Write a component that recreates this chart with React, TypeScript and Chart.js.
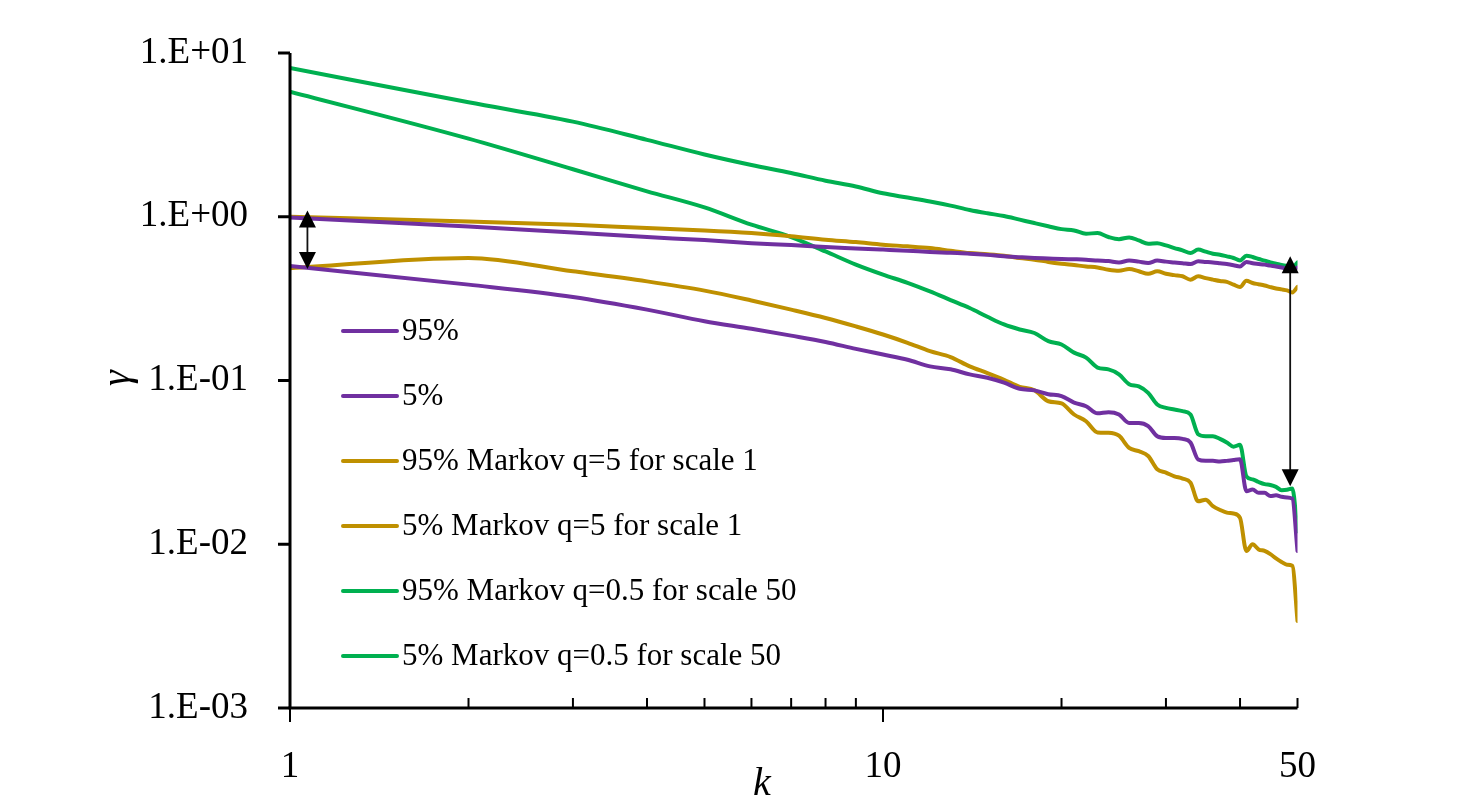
import { useEffect, useRef } from 'react';
import { Chart, registerables } from 'chart.js';

Chart.register(...registerables);

// ---- data ----
const K = [1, 2, 3, 4, 5, 6, 7, 8, 9, 10, 11, 12, 13, 14, 15, 16, 17, 18, 19, 20,
  21, 22, 23, 24, 25, 26, 27, 28, 29, 30, 31, 32, 33, 34, 35, 36, 37, 38, 39, 40,
  41, 42, 43, 44, 45, 46, 47, 48, 49, 50];

const P95 = [0.99, 0.873, 0.8, 0.752, 0.72, 0.69, 0.672, 0.653, 0.641, 0.63, 0.62, 0.61, 0.602, 0.595, 0.585, 0.573, 0.566, 0.56, 0.556, 0.552,
  0.55, 0.547, 0.54, 0.536, 0.526, 0.54, 0.532, 0.522, 0.54, 0.532, 0.526, 0.52, 0.514, 0.534, 0.53, 0.526, 0.52, 0.514, 0.506, 0.497,
  0.53, 0.52, 0.515, 0.51, 0.503, 0.497, 0.49, 0.482, 0.475, 0.49];

const P5 = [0.5, 0.385, 0.324, 0.271, 0.23, 0.207, 0.188, 0.172, 0.156, 0.144, 0.134, 0.122, 0.117, 0.109, 0.104, 0.097, 0.089, 0.087, 0.0825, 0.0803,
  0.0733, 0.0696, 0.063, 0.064, 0.062, 0.055, 0.055, 0.0527, 0.0457, 0.0446, 0.0446, 0.044, 0.0418, 0.0329, 0.0323, 0.0323, 0.032, 0.0323, 0.0327, 0.033,
  0.0211, 0.0216, 0.0206, 0.0206, 0.0197, 0.0199, 0.0195, 0.0193, 0.019, 0.0091];

const O95 = [1.0, 0.936, 0.894, 0.853, 0.825, 0.795, 0.76, 0.724, 0.7, 0.675, 0.66, 0.644, 0.62, 0.6, 0.59, 0.578, 0.56, 0.547, 0.53, 0.517,
  0.507, 0.497, 0.49, 0.475, 0.468, 0.48, 0.465, 0.449, 0.464, 0.449, 0.44, 0.433, 0.413, 0.433, 0.422, 0.413, 0.405, 0.4, 0.385, 0.373,
  0.407, 0.394, 0.387, 0.38, 0.372, 0.365, 0.36, 0.355, 0.345, 0.373];

const O5 = [0.485, 0.56, 0.464, 0.403, 0.354, 0.308, 0.271, 0.241, 0.214, 0.191, 0.17, 0.151, 0.139, 0.122, 0.111, 0.101, 0.0915, 0.0872, 0.0747, 0.0725,
  0.062, 0.0564, 0.0482, 0.048, 0.046, 0.0388, 0.037, 0.0346, 0.0287, 0.0274, 0.026, 0.0252, 0.0238, 0.0183, 0.0187, 0.0171, 0.0162, 0.0156, 0.0154, 0.0145,
  0.0091, 0.01, 0.0093, 0.0091, 0.0087, 0.0082, 0.0078, 0.0075, 0.0074, 0.0034];

const G95 = [8.1, 5.0, 3.81, 2.95, 2.4, 2.07, 1.85, 1.66, 1.53, 1.39, 1.31, 1.24, 1.17, 1.1, 1.05, 1.01, 0.96, 0.915, 0.875, 0.84,
  0.825, 0.788, 0.795, 0.752, 0.73, 0.748, 0.717, 0.684, 0.69, 0.668, 0.644, 0.623, 0.6, 0.63, 0.612, 0.595, 0.586, 0.573, 0.56, 0.541,
  0.578, 0.568, 0.552, 0.54, 0.526, 0.517, 0.507, 0.5, 0.49, 0.526];

const G5 = [5.81, 3.0, 1.95, 1.43, 1.14, 0.894, 0.752, 0.614, 0.51, 0.443, 0.395, 0.35, 0.31, 0.277, 0.245, 0.22, 0.205, 0.195, 0.174, 0.166,
  0.148, 0.138, 0.12, 0.117, 0.109, 0.095, 0.092, 0.084, 0.0714, 0.068, 0.0665, 0.065, 0.062, 0.047, 0.0457, 0.0457, 0.044, 0.0418, 0.0394, 0.0405,
  0.026, 0.0249, 0.024, 0.0233, 0.023, 0.0224, 0.0214, 0.0215, 0.0219, 0.012];

const LABELS = [
  '95%',
  '5%',
  '95% Markov q=5 for scale 1',
  '5% Markov q=5 for scale 1',
  '95% Markov q=0.5 for scale 50',
  '5% Markov q=0.5 for scale 50',
];
const SERIES = [P95, P5, O95, O5, G95, G5];
const COLORS = ['#7030A0', '#7030A0', '#BF9000', '#BF9000', '#00B050', '#00B050'];

const X_LABELED = [1, 10, 50];
const X_MAJOR = [1, 10];
const X_MINOR = [2, 3, 4, 5, 6, 7, 8, 9, 20, 30, 40, 50];
const Y_MAJOR = [0.001, 0.01, 0.1, 1, 10];

// double-headed arrows (k position, upper value, lower value)
const ARROW_K = [1.07, 48.6];
const ARROW_TOP = [1.09, 0.573];
const ARROW_BOTTOM = [0.48, 0.0226];

const FONT = '"Liberation Serif", "Times New Roman", serif';

function fmtExp(v: number): string {
  const e = Math.round(Math.log10(v));
  const sign = e >= 0 ? '+' : '-';
  return `1.E${sign}${String(Math.abs(e)).padStart(2, '0')}`;
}

const decorPlugin = {
  id: 'decor',
  afterDatasetsDraw(chart: any) {
    const { ctx, chartArea: ca, scales } = chart;
    const x = scales.x;
    const y = scales.y;
    ctx.save();

    // axes
    ctx.strokeStyle = '#000';
    ctx.lineCap = 'butt';
    ctx.lineWidth = 3;
    ctx.beginPath();
    ctx.moveTo(ca.left, ca.top);
    ctx.lineTo(ca.left, ca.bottom);
    ctx.stroke();
    ctx.beginPath();
    ctx.moveTo(ca.left - 1.5, ca.bottom);
    ctx.lineTo(ca.right, ca.bottom);
    ctx.stroke();

    // y ticks (outside)
    for (const v of Y_MAJOR) {
      const py = y.getPixelForValue(v);
      ctx.beginPath();
      ctx.moveTo(ca.left - 12, py);
      ctx.lineTo(ca.left, py);
      ctx.stroke();
    }

    // x ticks
    ctx.lineWidth = 2;
    for (const v of X_MAJOR) {
      const px = x.getPixelForValue(v);
      ctx.beginPath();
      ctx.moveTo(px, ca.bottom);
      ctx.lineTo(px, ca.bottom + 14);
      ctx.stroke();
    }
    for (const v of X_MINOR) {
      const px = x.getPixelForValue(v);
      ctx.beginPath();
      ctx.moveTo(px, ca.bottom);
      ctx.lineTo(px, ca.bottom - 10);
      ctx.stroke();
    }

    // arrows
    const head = 17;
    const half = 8.5;
    for (let i = 0; i < ARROW_K.length; i++) {
      const px = x.getPixelForValue(ARROW_K[i]);
      const y1 = y.getPixelForValue(ARROW_TOP[i]);
      const y2 = y.getPixelForValue(ARROW_BOTTOM[i]);
      ctx.strokeStyle = '#111';
      ctx.lineWidth = 1.8;
      ctx.beginPath();
      ctx.moveTo(px, y1 + head - 2);
      ctx.lineTo(px, y2 - head + 2);
      ctx.stroke();
      ctx.fillStyle = '#000';
      ctx.beginPath();
      ctx.moveTo(px, y1);
      ctx.lineTo(px - half, y1 + head);
      ctx.lineTo(px + half, y1 + head);
      ctx.closePath();
      ctx.fill();
      ctx.beginPath();
      ctx.moveTo(px, y2);
      ctx.lineTo(px - half, y2 - head);
      ctx.lineTo(px + half, y2 - head);
      ctx.closePath();
      ctx.fill();
    }

    // legend inside plot
    ctx.font = `31px ${FONT}`;
    ctx.textBaseline = 'middle';
    ctx.textAlign = 'left';
    chart.data.datasets.forEach((ds: any, i: number) => {
      const yy = 331 + i * 65;
      ctx.strokeStyle = ds.borderColor;
      ctx.lineWidth = 4;
      ctx.lineCap = 'round';
      ctx.beginPath();
      ctx.moveTo(343, yy);
      ctx.lineTo(397, yy);
      ctx.stroke();
      ctx.fillStyle = '#000';
      ctx.fillText(ds.label, 402, yy + 1);
    });

    // axis titles
    ctx.fillStyle = '#000';
    ctx.font = `italic 40px ${FONT}`;
    ctx.textAlign = 'center';
    ctx.textBaseline = 'middle';
    ctx.fillText('k', 762, 784);
    ctx.save();
    ctx.translate(118, 378);
    ctx.rotate(-Math.PI / 2);
    ctx.fillText('γ', 0, 0);
    ctx.restore();

    ctx.restore();
  },
};

export default function App() {
  const ref = useRef<HTMLCanvasElement | null>(null);

  useEffect(() => {
    if (!ref.current) return;
    const datasets = SERIES.map((arr, i) => ({
      label: LABELS[i],
      data: arr.map((v, j) => ({ x: K[j], y: v })),
      borderColor: COLORS[i],
      backgroundColor: COLORS[i],
      borderWidth: 4,
      pointRadius: 0,
      cubicInterpolationMode: 'monotone' as const,
      borderJoinStyle: 'round' as const,
      borderCapStyle: 'round' as const,
      fill: false,
    }));
    const chart = new Chart(ref.current, {
      type: 'line',
      data: { datasets },
      options: {
        animation: false,
        responsive: false,
        maintainAspectRatio: false,
        layout: { padding: { left: 0, top: 53, right: 169.5, bottom: 0 } },
        plugins: {
          legend: { display: false },
          tooltip: { enabled: false },
          title: { display: false },
        },
        scales: {
          x: {
            type: 'logarithmic',
            min: 1,
            max: 50,
            grid: { display: false, drawTicks: false },
            border: { display: false },
            ticks: {
              autoSkip: false,
              maxRotation: 0,
              padding: 37,
              color: '#000',
              font: { family: FONT, size: 37 },
              callback: (v: any) => (X_LABELED.includes(Number(v)) ? String(v) : ''),
            },
            afterFit: (s: any) => {
              s.height = 100;
              s.paddingLeft = 0;
              s.paddingRight = 0;
            },
          },
          y: {
            type: 'logarithmic',
            min: 0.001,
            max: 10,
            grid: { display: false, drawTicks: false },
            border: { display: false },
            ticks: {
              autoSkip: false,
              padding: 42,
              color: '#000',
              font: { family: FONT, size: 37 },
              callback: (v: any) => {
                const n = Number(v);
                const l = Math.log10(n);
                return Math.abs(l - Math.round(l)) < 1e-6 ? fmtExp(n) : '';
              },
            },
            afterFit: (s: any) => {
              s.width = 290;
              s.paddingTop = 0;
              s.paddingBottom = 0;
            },
          },
        },
      },
      plugins: [decorPlugin],
    });
    return () => chart.destroy();
  }, []);

  return (
    <div style={{ position: 'fixed', left: 0, top: 0, width: 1467, height: 808, background: '#fff' }}>
      <canvas ref={ref} width={1467} height={808} style={{ display: 'block' }} />
    </div>
  );
}
